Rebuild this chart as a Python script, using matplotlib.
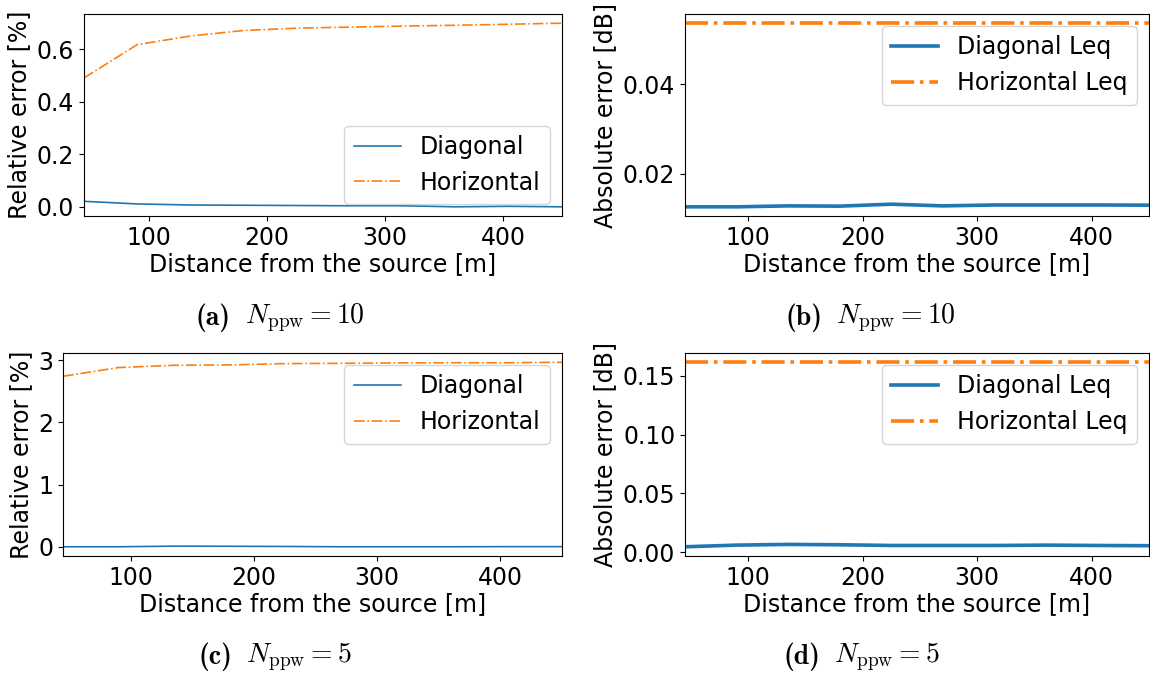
import matplotlib
matplotlib.use("Agg")
import matplotlib.pyplot as plt

plt.rcParams['font.family'] = ['DejaVu Sans']
plt.rcParams['mathtext.fontset'] = 'cm'
plt.rcParams['font.size'] = 17

distance = [45, 90, 135, 180, 225, 270, 315, 360, 405, 450]

# (a) N_ppw = 10 relative error [%]
rel10_diag = [0.020, 0.010, 0.006, 0.005, 0.004, 0.003, 0.003, -0.001, 0.001, -0.001]
rel10_horiz = [0.491, 0.618, 0.651, 0.672, 0.681, 0.685, 0.689, 0.692, 0.696, 0.700]

# (b) N_ppw = 10 absolute error [dB]
abs10_diag = [0.01259, 0.01259, 0.01280, 0.01274, 0.01318, 0.01280, 0.01300, 0.01300, 0.01300, 0.01296]
abs10_horiz = [0.0536] * 10

# (c) N_ppw = 5 relative error [%]
rel5_diag = [0.000, 0.000, 0.010, 0.008, 0.005, 0.000, 0.000, 0.000, 0.002, 0.002]
rel5_horiz = [2.742, 2.882, 2.919, 2.925, 2.946, 2.950, 2.957, 2.960, 2.960, 2.968]

# (d) N_ppw = 5 absolute error [dB]
abs5_diag = [0.0048, 0.0062, 0.0068, 0.0065, 0.0059, 0.0059, 0.0059, 0.0062, 0.0059, 0.0057]
abs5_horiz = [0.1613] * 10

cap_labels = ["(a)", "(b)", "(c)", "(d)"]
cap_maths = [r"$N_{\mathrm{ppw}} = 10$", r"$N_{\mathrm{ppw}} = 10$",
             r"$N_{\mathrm{ppw}} = 5$", r"$N_{\mathrm{ppw}} = 5$"]

W, H = 1150, 679
fig = plt.figure(figsize=(W / 100, H / 100), dpi=100)

def ax_px(l, r, t, b):
    return fig.add_axes([l / W, 1 - b / H, (r - l) / W, (b - t) / H])

blue = '#1f77b4'
orange = '#ff7f0e'

ax_a = ax_px(84, 562, 14, 216)
ax_b = ax_px(685, 1149, 14, 216)
ax_c = ax_px(63, 562, 353, 556)
ax_d = ax_px(685, 1149, 353, 556)

ax_a.plot(distance, rel10_diag, color=blue, lw=1.2, label='Diagonal')
ax_a.plot(distance, rel10_horiz, color=orange, lw=1.2, ls='-.', label='Horizontal')
ax_a.set_ylabel('Relative error [%]')
ax_a.legend(loc='lower right')

ax_b.plot(distance, abs10_diag, color=blue, lw=2.6, label='Diagonal Leq')
ax_b.plot(distance, abs10_horiz, color=orange, lw=2.6, ls='-.', label='Horizontal Leq')
ax_b.set_ylabel('Absolute error [dB]')
ax_b.legend(loc='upper right')

ax_c.plot(distance, rel5_diag, color=blue, lw=1.2, label='Diagonal')
ax_c.plot(distance, rel5_horiz, color=orange, lw=1.2, ls='-.', label='Horizontal')
ax_c.set_ylabel('Relative error [%]')
ax_c.legend(loc='upper right')

ax_d.plot(distance, abs5_diag, color=blue, lw=2.6, label='Diagonal Leq')
ax_d.plot(distance, abs5_horiz, color=orange, lw=2.6, ls='-.', label='Horizontal Leq')
ax_d.set_ylabel('Absolute error [dB]')
ax_d.set_yticks([0.0, 0.05, 0.10, 0.15])
ax_d.legend(loc='upper right')

for ax in (ax_a, ax_b, ax_c, ax_d):
    ax.set_xlim(distance[0], distance[-1])
    ax.set_xticks([100, 200, 300, 400])
    ax.set_xlabel('Distance from the source [m]', labelpad=2)

cap_pos = [(279, 318), (870, 318), (280, 657), (868, 657)]
for (cx, cy), lab, mth in zip(cap_pos, cap_labels, cap_maths):
    fig.text((cx - 48) / W, 1 - cy / H, lab, ha='right', va='center',
             fontsize=20, family=['cmb10', 'DejaVu Serif'], fontweight='bold')
    fig.text((cx - 34) / W, 1 - cy / H, mth, ha='left', va='center', fontsize=20)

fig.savefig('out.png', dpi=100)
